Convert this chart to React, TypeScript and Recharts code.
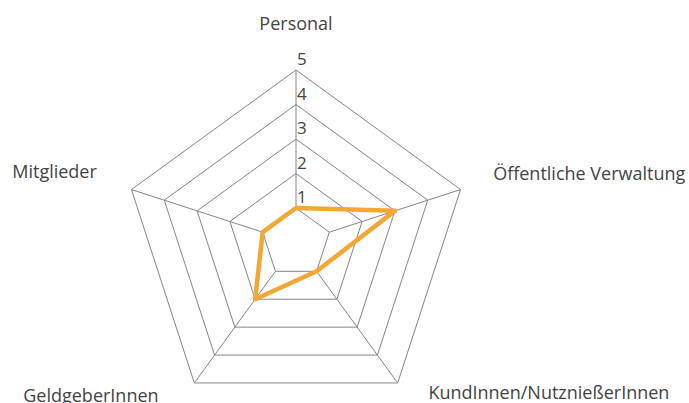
import React from 'react';
import { RadarChart, Radar, PolarGrid, PolarAngleAxis, PolarRadiusAxis } from 'recharts';

const categories = ['Personal', 'Öffentliche Verwaltung', 'KundInnen/NutznießerInnen', 'GeldgeberInnen', 'Mitglieder'];
const values = [1, 3, 1, 2, 1];
const radiusTicks = [1, 2, 3, 4, 5];

const data = categories.map((name, i) => ({ name, value: values[i] }));

const FONT = '"Open Sans", "Noto Sans", sans-serif';

// nudge each category label to where the reference puts it
const labelShift: Record<number, { dx: number; dy: number; anchor: string }> = {
  0: { dx: 0, dy: -32, anchor: 'middle' },
  1: { dx: 25, dy: -7, anchor: 'start' },
  2: { dx: 26, dy: 10, anchor: 'start' },
  3: { dx: -31, dy: 13, anchor: 'end' },
  4: { dx: -27, dy: -9, anchor: 'end' },
};

function AngleTick(props: any) {
  const { x, y, payload, index } = props;
  const s = labelShift[index] || { dx: 0, dy: 0, anchor: 'middle' };
  return (
    <text x={x + s.dx} y={y + s.dy} textAnchor={s.anchor}
      fontFamily={FONT} fontSize={18} fill="#444">
      {payload.value}
    </text>
  );
}

function RadiusTick(props: any) {
  const { x, y, payload } = props;
  return (
    <text x={x + 1} y={y - 5} textAnchor="start" fontFamily={FONT} fontSize={17} fill="#444">
      {payload.value}
    </text>
  );
}

export default function App() {
  return (
    <div style={{ position: 'absolute', left: 0, top: 0, background: '#fff' }}>
      <RadarChart width={689} height={403} data={data} cx={296} cy={243}
        innerRadius={35} outerRadius={173} margin={{ top: 0, right: 0, bottom: 0, left: 0 }}>
        <PolarGrid gridType="polygon" stroke="#858585" strokeWidth={1} polarRadius={[35, 69.5, 104, 138.5, 173]} />
        <PolarAngleAxis dataKey="name" tick={<AngleTick />} axisLine={false} tickLine={false} />
        <PolarRadiusAxis angle={90} domain={[1, 5]} ticks={radiusTicks as any} tickCount={5}
          axisLine={false} tick={<RadiusTick />} />
        <Radar dataKey="value" stroke="#f5a733" strokeWidth={4.5} fill="none" fillOpacity={0}
          dot={false} isAnimationActive={false} strokeLinejoin="round" />
      </RadarChart>
    </div>
  );
}
